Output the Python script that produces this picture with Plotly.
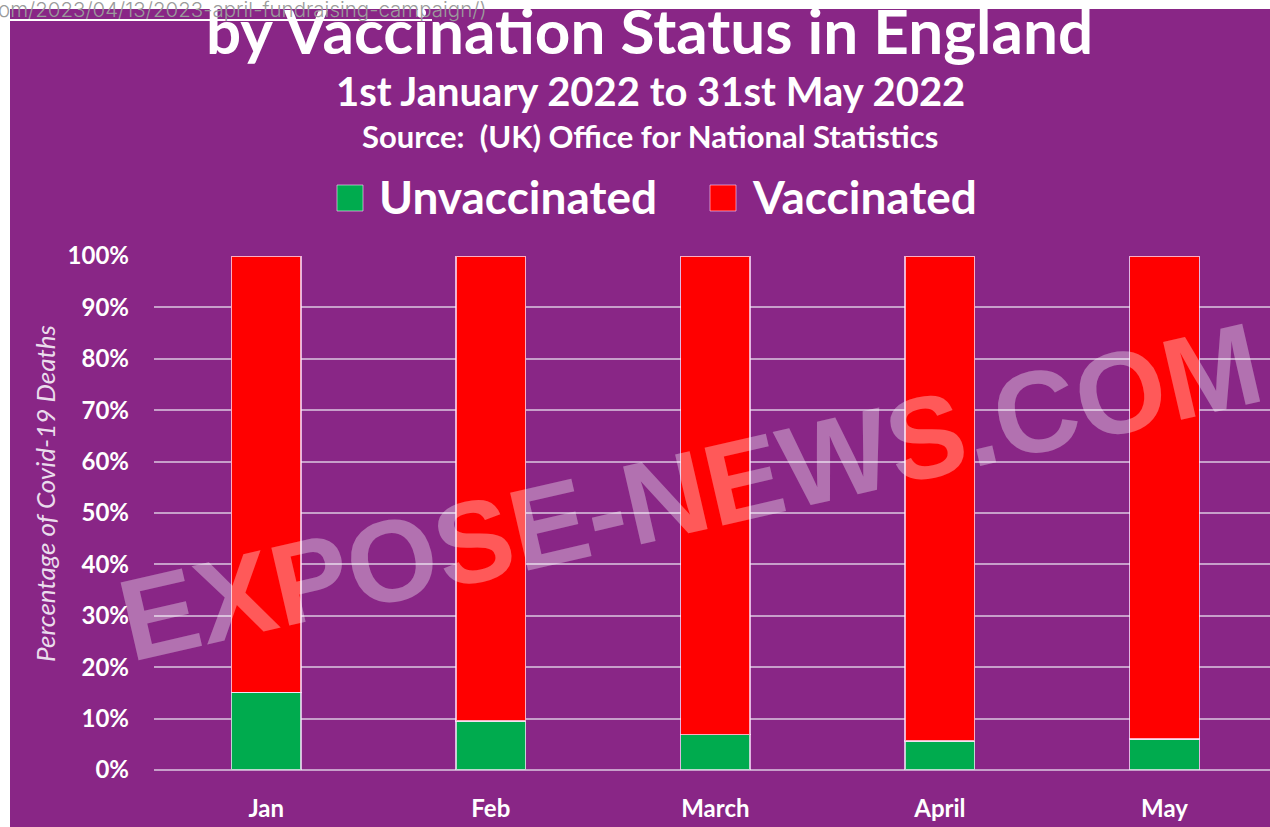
import plotly.graph_objects as go

months = ["Jan", "Feb", "March", "April", "May"]
unvaccinated = [15.1, 9.5, 6.9, 5.6, 6.0]
vaccinated = [100 - v for v in unvaccinated]
series_names = ["Unvaccinated", "Vaccinated"]
y_ticks = [0, 10, 20, 30, 40, 50, 60, 70, 80, 90, 100]
y_tick_labels = [f"{t}%" for t in y_ticks]

title_text = "by Vaccination Status in England"
subtitle_text = "1st January 2022 to 31st May 2022"
source_text = "Source:  (UK) Office for National Statistics"
y_title = "Percentage of Covid-19 Deaths"
watermark = "EXPOSE-NEWS.COM"
url_text = "om/2023/04/13/2023-april-fundraising-campaign/)"

PURPLE = "#892686"
GREEN = "#00AB4E"
RED = "#FF0000"
GRID = "#c79fca"
FONT = "Lato"

W, H = 1270, 827
L, T, B = 154, 256, 770  # plot area pixel bounds
PW, PH = W - L, B - T

def px(x):
    return (x - L) / PW

def py(y):
    return (B - y) / PH

fig = go.Figure()
fig.add_trace(go.Bar(
    x=months, y=unvaccinated, name=series_names[0],
    marker=dict(color=GREEN, line=dict(color="rgba(255,230,255,0.75)", width=1.5)),
    width=0.31, showlegend=False,
))
fig.add_trace(go.Bar(
    x=months, y=vaccinated, name=series_names[1],
    marker=dict(color=RED, line=dict(color="rgba(255,230,255,0.75)", width=1.5)),
    width=0.31, showlegend=False,
))

shapes = [
    dict(type="rect", xref="paper", yref="paper", x0=px(10), x1=px(W + 5), y0=py(H + 5), y1=py(9),
         fillcolor=PURPLE, line=dict(width=0), layer="below"),
    dict(type="line", xref="paper", yref="paper", x0=px(9), x1=px(432), y0=py(20), y1=py(20),
         line=dict(color="white", width=2), layer="above"),
]

legend_items = [(series_names[0], GREEN, 337), (series_names[1], RED, 710)]
annotations = []
for name, color, x0 in legend_items:
    shapes.append(dict(type="rect", xref="paper", yref="paper", x0=px(x0), x1=px(x0 + 26),
                       y0=py(211), y1=py(185), fillcolor=color,
                       line=dict(color="rgba(255,220,255,0.6)", width=1), layer="above"))
    annotations.append(dict(text=name, xref="paper", yref="paper", x=px(x0 + 40), y=py(197),
                            xanchor="left", yanchor="middle", showarrow=False,
                            font=dict(family=FONT, size=46, color="white", weight="bold")))

annotations += [
    dict(text=title_text, xref="paper", yref="paper", x=px(649), y=py(30),
         xanchor="center", yanchor="middle", showarrow=False,
         font=dict(family=FONT, size=62, color="white", weight="bold")),
    dict(text=subtitle_text, xref="paper", yref="paper", x=px(650), y=py(91),
         xanchor="center", yanchor="middle", showarrow=False,
         font=dict(family=FONT, size=40, color="white", weight="bold")),
    dict(text=source_text, xref="paper", yref="paper", x=px(650), y=py(136),
         xanchor="center", yanchor="middle", showarrow=False,
         font=dict(family=FONT, size=31, color="white", weight="bold")),
    dict(text=y_title, xref="paper", yref="paper", x=px(45), y=py(494),
         xanchor="center", yanchor="middle", showarrow=False, textangle=-90,
         font=dict(family=FONT, size=26, color="#eadcec", style="italic")),
    dict(text=watermark, xref="paper", yref="paper", x=px(690), y=py(492),
         xanchor="center", yanchor="middle", showarrow=False, textangle=-13,
         font=dict(family="Liberation Sans", size=116, color="rgba(255,255,255,0.35)", weight="bold")),
    dict(text=url_text, xref="paper", yref="paper", x=px(-4), y=py(10),
         xanchor="left", yanchor="middle", showarrow=False,
         font=dict(family="Inter", size=20.5, color="#9b9b9b", weight=300)),
]

fig.update_layout(
    width=W, height=H,
    margin=dict(l=L, r=0, t=T, b=H - B, pad=0),
    barmode="stack",
    paper_bgcolor="white",
    plot_bgcolor="rgba(0,0,0,0)",
    shapes=shapes,
    annotations=annotations,
    showlegend=False,
    xaxis=dict(
        range=[-0.5, 4.47], showgrid=False, zeroline=False, showline=False,
        tickfont=dict(family=FONT, size=24, color="white", weight="bold"),
        ticklabelstandoff=22, fixedrange=True,
    ),
    yaxis=dict(
        range=[0, 100], tickvals=y_ticks, ticktext=y_tick_labels,
        showgrid=True, gridcolor=GRID, gridwidth=2,
        zeroline=True, zerolinecolor=GRID, zerolinewidth=2, showline=False,
        tickfont=dict(family=FONT, size=24, color="white", weight="bold"),
        ticklabelstandoff=24, fixedrange=True,
    ),
)

fig.write_html("out.html", config={"displayModeBar": False},
               post_script="document.body.style.margin='0px';")
